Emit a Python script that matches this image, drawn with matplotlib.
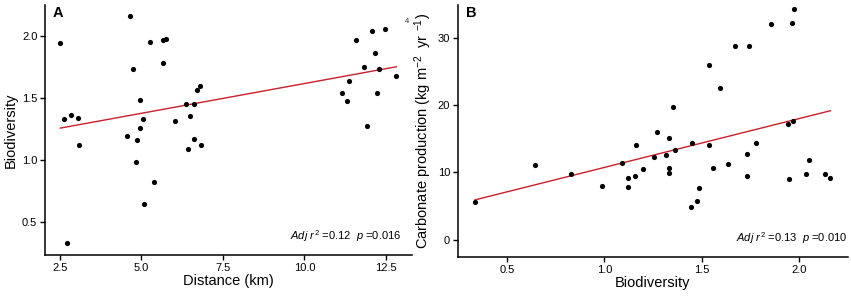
import numpy as np
import matplotlib
matplotlib.use("Agg")
import matplotlib.pyplot as plt

# ---- data ----
dist_km = [2.51, 2.62, 2.83, 3.05, 3.07, 2.71, 4.64, 4.74, 4.57, 4.85, 4.84, 4.94, 4.97, 5.06,
           5.07, 5.27, 5.39, 5.66, 5.76, 5.66, 6.02, 6.37, 6.49, 6.62, 6.42, 6.61, 6.69, 6.79,
           6.82, 11.57, 12.08, 12.46, 12.17, 11.83, 12.30, 12.82, 11.36, 11.16, 11.31, 12.24, 11.93]
biodiv_a = [1.947, 1.328, 1.36, 1.334, 1.12, 0.33, 2.165, 1.734, 1.194, 1.159, 0.98, 1.253, 1.484,
            1.33, 0.642, 1.95, 0.823, 1.97, 1.973, 1.782, 1.315, 1.45, 1.352, 1.447, 1.089, 1.165,
            1.56, 1.595, 1.118, 1.965, 2.038, 2.056, 1.86, 1.747, 1.731, 1.673, 1.635, 1.54, 1.473,
            1.54, 1.27]

biodiv_b = [0.337, 0.647, 0.829, 0.988, 1.092, 1.123, 1.123, 1.159, 1.163, 1.196, 1.253, 1.272,
            1.316, 1.331, 1.333, 1.331, 1.352, 1.362, 1.448, 1.445, 1.474, 1.484, 1.539, 1.539,
            1.559, 1.591, 1.634, 1.668, 1.744, 1.732, 1.732, 1.78, 1.857, 1.940, 1.968, 1.963,
            1.972, 1.946, 2.035, 2.052, 2.13, 2.16]
carb_prod = [5.6, 11.1, 9.7, 7.93, 11.4, 9.17, 7.88, 9.46, 14.07, 10.5, 12.24, 16.05, 12.54, 15.16,
             10.7, 9.87, 19.67, 13.33, 14.41, 4.9, 5.8, 7.64, 26.0, 14.07, 10.6, 22.5, 11.25, 28.78,
             28.78, 12.78, 9.51, 14.41, 32.1, 17.15, 17.68, 32.2, 34.2, 8.97, 9.71, 11.89, 9.76, 9.17]

ticks_a_x = [2.5, 5.0, 7.5, 10.0, 12.5]
ticks_a_y = [0.5, 1.0, 1.5, 2.0]
ticks_b_x = [0.5, 1.0, 1.5, 2.0]
ticks_b_y = [0, 10, 20, 30]

stats_a = "0.12", "0.016"
stats_b = "0.13", "0.010"

plt.rcParams['font.family'] = ['Liberation Sans', 'DejaVu Sans']
plt.rcParams['mathtext.fontset'] = 'custom'
plt.rcParams['mathtext.rm'] = 'Liberation Sans'
plt.rcParams['mathtext.it'] = 'Liberation Sans:italic'

W, H = 851, 297
fig = plt.figure(figsize=(W / 100, H / 100), dpi=100)

def pos(l, r, t, b):
    return [l / W, 1 - b / H, (r - l) / W, (b - t) / H]

axA = fig.add_axes(pos(45, 412, 5, 255))
axB = fig.add_axes(pos(457.7, 848, 5, 257.3))

RED = '#c8202a'
tickfont = dict(family=['Liberation Sans Narrow', 'Liberation Sans'], size=8)

def style(ax):
    for s in ['top', 'right']:
        ax.spines[s].set_visible(False)
    for s in ['left', 'bottom']:
        ax.spines[s].set_linewidth(1.1)
        ax.spines[s].set_color('black')
    ax.tick_params(direction='out', length=3.5, width=1.0, colors='black', pad=2)
    for lab in ax.get_xticklabels() + ax.get_yticklabels():
        lab.set_fontfamily(tickfont['family'])
        lab.set_fontsize(tickfont['size'])

def panel(ax, x, y, xt, yt, xlim, ylim, xlabel, ylabel, letter, stats, stat_x):
    x = np.asarray(x); y = np.asarray(y)
    ax.scatter(x, y, s=14, color='black', linewidths=0, zorder=3)
    k, c = np.polyfit(x, y, 1)
    xx = np.array([x.min(), x.max()])
    ax.plot(xx, k * xx + c, color=RED, lw=1.0, zorder=2)
    ax.set_xlim(*xlim); ax.set_ylim(*ylim)
    ax.set_xticks(xt); ax.set_yticks(yt)
    ax.set_xticklabels([f"{v:g}" if isinstance(v, int) else f"{v:.1f}" for v in xt])
    ax.set_yticklabels([f"{v:g}" if isinstance(v, int) else f"{v:.1f}" for v in yt])
    ax.set_xlabel(xlabel, fontsize=10.5, labelpad=1)
    ax.set_ylabel(ylabel, fontsize=10.5, labelpad=3)
    style(ax)
    ax.text(0.02, 0.995, letter, transform=ax.transAxes, fontsize=10.5, fontweight='bold',
            va='top', ha='left')
    ax.text(stat_x, 0.045,
            r"$\mathit{Adj\ r}^{2}$" + f" ={stats[0]}  " + r"$\mathit{p}$" + f" ={stats[1]}",
            transform=ax.transAxes, fontsize=8, ha='right', va='bottom')

panel(axA, dist_km, biodiv_a, ticks_a_x, ticks_a_y, (2.04, 13.3), (0.23, 2.25),
      "Distance (km)", "Biodiversity", "A", stats_a, 0.972)
panel(axB, biodiv_b, carb_prod, ticks_b_x, ticks_b_y, (0.248, 2.25), (-2.6, 34.86),
      "Biodiversity", r"Carbonate production (kg m$^{-2}$  yr $^{-1}$)", "B", stats_b, 0.998)

fig.text(406.7 / W, 1 - 21.7 / H, "4", fontsize=5.5, ha='center', va='center', color='#333333')

fig.savefig("out.png", dpi=100)
